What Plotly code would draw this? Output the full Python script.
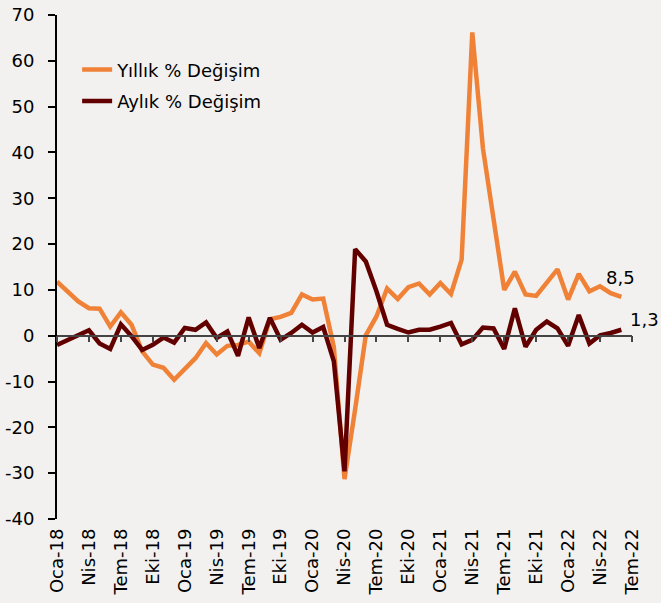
import plotly.graph_objects as go

tick_labels = ["Oca-18", "Nis-18", "Tem-18", "Eki-18", "Oca-19", "Nis-19", "Tem-19", "Eki-19",
               "Oca-20", "Nis-20", "Tem-20", "Eki-20", "Oca-21", "Nis-21", "Tem-21", "Eki-21",
               "Oca-22", "Nis-22", "Tem-22"]
y_tick_vals = [-40, -30, -20, -10, 0, 10, 20, 30, 40, 50, 60, 70]
y_tick_labels = ["-40", "-30", "-20", "-10", "0", "10", "20", "30", "40", "50", "60", "70"]

yillik = [11.8, 9.7, 7.5, 6.0, 5.9, 2.0, 5.1, 2.4, -3.4, -6.3, -7.0, -9.6,
          -7.4, -4.9, -1.6, -4.1, -2.2, -2.0, -1.3, -3.8, 3.6, 4.1, 5.0, 9.0,
          7.9, 8.1, -2.5, -31.3, -16.0, 0.1, 4.2, 10.3, 8.0, 10.6, 11.4, 9.0,
          11.5, 9.1, 16.6, 66.2, 40.9, 25.4, 10.0, 14.0, 9.0, 8.7, 11.5, 14.5,
          7.9, 13.5, 9.7, 10.8, 9.3, 8.5]
aylik = [-2.0, -0.9, 0.2, 1.2, -1.7, -2.9, 2.5, -0.1, -3.1, -2.0, -0.4, -1.5,
         1.7, 1.3, 2.9, -0.5, 0.9, -4.4, 4.0, -2.7, 3.9, -0.9, 0.6, 2.4,
         0.7, 1.9, -5.6, -29.6, 18.9, 16.2, 9.7, 2.4, 1.5, 0.7, 1.3, 1.3,
         2.0, 2.8, -1.9, -0.9, 1.8, 1.6, -2.9, 6.0, -2.4, 1.3, 3.1, 1.6,
         -2.2, 4.5, -1.7, 0.1, 0.6, 1.3]

idx = list(range(len(yillik)))
tick_pos = [3 * k for k in range(len(tick_labels))]

FONT = "DejaVu Sans"
ORANGE = "#F08237"
DARK = "#620000"
BG = "#F2F1EF"

fig = go.Figure()
fig.add_trace(go.Scatter(x=idx, y=yillik, mode="lines", name="Yıllık % Değişim",
                         legendgroup="a", line=dict(color=ORANGE, width=4.5)))
fig.add_trace(go.Scatter(x=idx, y=aylik, mode="lines", name="Aylık % Değişim",
                         legendgroup="b", line=dict(color=DARK, width=4.5)))
# invisible trace to carry the zero-line axis with tick marks
fig.add_trace(go.Scatter(x=[0], y=[0], xaxis="x2", mode="markers", marker=dict(opacity=0),
                         showlegend=False, hoverinfo="skip"))

fig.add_annotation(x=idx[-1], y=yillik[-1], text="8,5", showarrow=False,
                   xanchor="center", yanchor="bottom", xshift=-1, yshift=7,
                   font=dict(family=FONT, size=18, color="black"))
fig.add_annotation(x=idx[-1], y=aylik[-1], text="1,3", showarrow=False,
                   xanchor="left", yanchor="middle", xshift=7, yshift=10,
                   font=dict(family=FONT, size=18, color="black"))

ymin, ymax = -40, 70
fig.update_layout(
    width=661, height=603,
    margin=dict(l=57, r=29, t=15, b=84, autoexpand=False),
    paper_bgcolor=BG, plot_bgcolor=BG,
    font=dict(family=FONT, size=18, color="black"),
    separators=",.",
    showlegend=True,
    legend=dict(x=0.035, y=0.928, xanchor="left", yanchor="top", bgcolor="rgba(0,0,0,0)",
                traceorder="grouped", tracegroupgap=5,
                font=dict(family=FONT, size=18)),
    xaxis=dict(range=[0, 54], tickvals=tick_pos, ticktext=tick_labels, tickangle=-90,
               showgrid=False, zeroline=False, showline=False, ticks="",
               automargin=False, ticklabelstandoff=5,
               tickfont=dict(family=FONT, size=18)),
    xaxis2=dict(range=[0, 54], overlaying="x", anchor="free",
                position=(0 - ymin) / (ymax - ymin), tickvals=tick_pos,
                showticklabels=False, showgrid=False, zeroline=False, automargin=False,
                showline=True, linecolor="#444444", linewidth=1.5,
                ticks="outside", ticklen=6, tickcolor="#444444", tickwidth=1.5),
    yaxis=dict(range=[ymin, ymax], tickvals=y_tick_vals, ticktext=y_tick_labels,
               showgrid=False, zeroline=False,
               showline=True, linecolor="black", linewidth=2, automargin=False,
               ticks="outside", ticklen=7, tickcolor="black", tickwidth=1.5,
               ticklabelstandoff=10,
               tickfont=dict(family=FONT, size=18)),
)

fig.write_html("out.html", config={"displayModeBar": False},
               post_script="document.body.style.margin='0';document.body.style.background='%s';" % BG)
